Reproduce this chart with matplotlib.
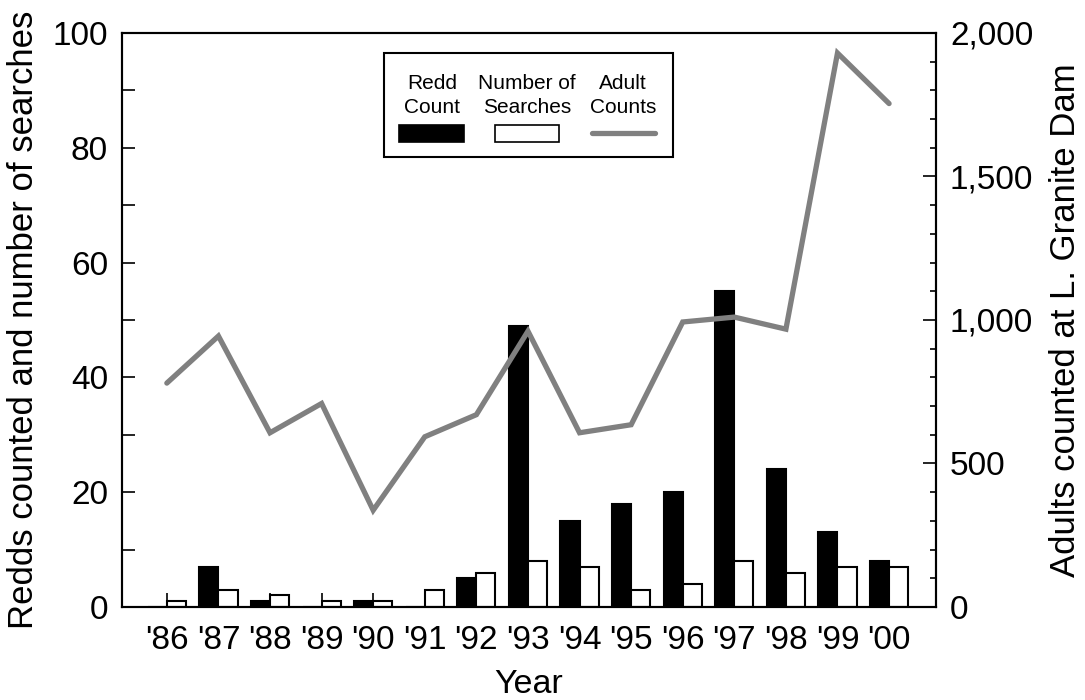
import matplotlib
matplotlib.use("Agg")
import matplotlib.pyplot as plt
from matplotlib.patches import Rectangle
from matplotlib.lines import Line2D
from matplotlib.ticker import MultipleLocator, FuncFormatter
import numpy as np

plt.rcParams['font.family'] = ['Liberation Sans', 'DejaVu Sans']

years = ["'86", "'87", "'88", "'89", "'90", "'91", "'92", "'93",
         "'94", "'95", "'96", "'97", "'98", "'99", "'00"]
redds = [0, 7, 1, 0, 1, 0, 5, 49, 15, 18, 20, 55, 24, 13, 8]
searches = [1, 3, 2, 1, 1, 3, 6, 8, 7, 3, 4, 8, 6, 7, 7]
adults = [780, 944, 607, 709, 337, 593, 670, 961,
          607, 635, 993, 1010, 968, 1930, 1754]

x = np.arange(len(years))
w = 0.37

fig = plt.figure(figsize=(10.85, 7), dpi=100)
ax = fig.add_axes([0.1124, 0.1329, 0.7503, 0.82])
ax.set_axisbelow(True)

ax.bar(x - w / 2, redds, w, color="black", edgecolor="black", linewidth=1.5)
ax.bar(x + w / 2, searches, w, color="white", edgecolor="black", linewidth=1.5)

ax.set_xlim(-0.87, 14.91)
ax.set_ylim(0, 100)
ax.set_xticks(x)
ax.set_xticklabels(years)
ax.yaxis.set_major_locator(MultipleLocator(20))
ax.yaxis.set_minor_locator(MultipleLocator(10))
ax.tick_params(axis="x", direction="in", length=10, width=1.2, pad=13,
               labelsize=24)
ax.tick_params(axis="y", which="both", direction="in", length=9.5,
               width=1.2, pad=10, labelsize=24, right=False)
for s in ax.spines.values():
    s.set_linewidth(1.5)

ax.set_xlabel("Year", fontsize=24.5, labelpad=9)
ax.set_ylabel("Redds counted and number of searches", fontsize=25,
              labelpad=9)

ax2 = ax.twinx()
ax2.plot(x, adults, color="#808080", linewidth=3.8,
         solid_joinstyle="miter", solid_capstyle="round")
ax2.set_ylim(0, 2000)
ax2.yaxis.set_major_locator(MultipleLocator(500))
ax2.yaxis.set_minor_locator(MultipleLocator(100))
ax2.yaxis.set_major_formatter(FuncFormatter(lambda v, p: f"{int(v):,}"))
ax2.tick_params(axis="y", which="major", direction="in", length=9.5,
                width=1.2, pad=10, labelsize=24)
ax2.tick_params(axis="y", which="minor", direction="in", length=4.5,
                width=1.2)
for s in ax2.spines.values():
    s.set_linewidth(1.5)
ax2.set_ylabel("Adults counted at L. Granite Dam", fontsize=25,
               labelpad=11)

# hand-built legend: titles above the swatches
tr = ax2.transAxes
ax2.add_patch(Rectangle((0.322, 0.784), 0.355, 0.181, transform=tr,
                        facecolor="white", edgecolor="black",
                        linewidth=1.5, zorder=5))
labels = ["Redd\nCount", "Number of\nSearches", "Adult\nCounts"]
centers = [0.381, 0.4975, 0.6155]
for c, lab in zip(centers, labels):
    ax2.text(c, 0.891, lab, transform=tr, ha="center", va="center",
             fontsize=15, linespacing=1.3, zorder=6)
ax2.add_patch(Rectangle((0.340, 0.810), 0.080, 0.030, transform=tr,
                        facecolor="black", edgecolor="black",
                        linewidth=1.2, zorder=6))
ax2.add_patch(Rectangle((0.458, 0.810), 0.079, 0.030, transform=tr,
                        facecolor="white", edgecolor="black",
                        linewidth=1.2, zorder=6))
ax2.add_line(Line2D([0.578, 0.655], [0.826, 0.826], transform=tr,
                    color="#808080", linewidth=3.8,
                    solid_capstyle="round", zorder=6))

fig.savefig("out.png", dpi=100)
